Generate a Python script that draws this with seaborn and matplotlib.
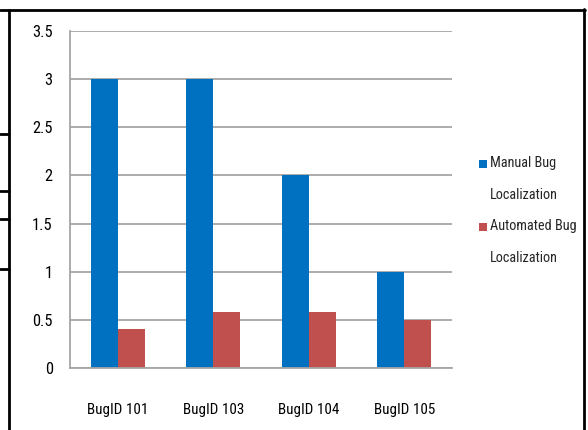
import matplotlib
matplotlib.use("Agg")
import matplotlib.pyplot as plt
from matplotlib import font_manager as fm
from matplotlib.lines import Line2D
from matplotlib.patches import Rectangle
import seaborn as sns
import pandas as pd

categories = ["BugID 101", "BugID 103", "BugID 104", "BugID 105"]
manual = [3, 3, 2, 1]
automated = [0.4, 0.58, 0.58, 0.5]
series_names = ["Manual Bug\nLocalization", "Automated Bug\nLocalization"]
colors = ["#0070C0", "#C0504D"]
y_ticks = [0, 0.5, 1, 1.5, 2, 2.5, 3, 3.5]
y_labels = ["0", "0.5", "1", "1.5", "2", "2.5", "3", "3.5"]

sns.set_style("white")

# pick a narrow font if one is installed
fam, stretch = "DejaVu Sans", "normal"
entries = fm.fontManager.ttflist
names = {f.name for f in entries}
for cand in ["Liberation Sans Narrow", "Arial Narrow", "Roboto Condensed",
             "Open Sans Condensed", "Noto Sans Condensed"]:
    if cand in names:
        fam = cand
        break
else:
    cond = [f for f in entries if str(f.stretch) in ("condensed", "semi-condensed", "extra-condensed")
            and f.style == "normal" and f.weight in (400, "normal", "regular")]
    if cond:
        fam, stretch = cond[0].name, cond[0].stretch
plt.rcParams["font.family"] = [fam, "DejaVu Sans"]
plt.rcParams["font.stretch"] = stretch

W, H = 588, 430
fig = plt.figure(figsize=(W / 100, H / 100), dpi=100)

def fx(x):
    return x / W

def fy(y):
    return 1 - y / H

renderer = fig.canvas.get_renderer()

def fit_size(text, target_px, base):
    t = fig.text(0, 0, text, fontsize=base)
    w = t.get_window_extent(renderer).width
    t.remove()
    return min(base * 1.25, base * target_px / w)

xsize = fit_size("BugID 101", 61, 11)
ysize = xsize * 1.08
lsize = fit_size("Manual Bug", 66, 11)

ax = fig.add_axes([fx(70), fy(368), fx(452) - fx(70), fy(31) - fy(368)])

df = pd.DataFrame({
    "cat": categories * 2,
    "val": manual + automated,
    "series": [series_names[0]] * len(categories) + [series_names[1]] * len(categories),
})

sns.barplot(data=df, x="cat", y="val", hue="series", order=categories,
            hue_order=series_names, palette=colors, width=0.565,
            saturation=1, legend=False, ax=ax, edgecolor="none", linewidth=0)

grey = "#a6a6a6"
ax.set_xlim(-0.5, len(categories) - 0.5)
ax.set_ylim(0, 3.5)
ax.set_yticks(y_ticks)
ax.set_yticklabels(y_labels)
ax.yaxis.grid(True, color=grey, linewidth=1.3)
ax.set_axisbelow(True)
ax.set_xlabel("")
ax.set_ylabel("")

ax.set_xticks([i - 0.5 for i in range(len(categories) + 1)])
ax.set_xticklabels([])
ax.set_xticks(list(range(len(categories))), minor=True)
ax.set_xticklabels(categories, minor=True)
ax.tick_params(axis="x", which="major", length=6.5, width=1.1, color=grey, direction="out")
ax.tick_params(axis="x", which="minor", length=0, pad=25, labelsize=xsize, colors="black")
ax.tick_params(axis="y", length=4.5, width=1.1, color=grey, direction="out",
               pad=8, labelsize=ysize, labelcolor="black")

for s in ["top", "right"]:
    ax.spines[s].set_visible(False)
for s in ["left", "bottom"]:
    ax.spines[s].set_color(grey)
    ax.spines[s].set_linewidth(1.3)

# legend
leg_y = [164, 227]
for i, name in enumerate(series_names):
    y = leg_y[i]
    fig.patches.append(Rectangle((fx(479), fy(y + 4)), fx(8), fy(y - 4) - fy(y + 4),
                                 transform=fig.transFigure, facecolor=colors[i],
                                 edgecolor="none"))
    fig.text(fx(490), fy(y - 8), name, ha="left", va="top", fontsize=lsize,
             linespacing=2.65, transform=fig.transFigure)

# outer frame / table lines
lw = 2.0
fig.add_artist(Line2D([fx(0), fx(585)], [fy(10), fy(10)], color="black", lw=lw,
                      transform=fig.transFigure))
fig.add_artist(Line2D([fx(9), fx(9)], [fy(10), fy(431)], color="black", lw=lw,
                      transform=fig.transFigure))
fig.add_artist(Line2D([fx(584), fx(584)], [fy(9), fy(431)], color="black", lw=lw,
                      transform=fig.transFigure))
for y in [134, 191, 219, 269]:
    fig.add_artist(Line2D([fx(0), fx(9)], [fy(y), fy(y)], color="black", lw=lw,
                          transform=fig.transFigure))

fig.savefig("out.png", dpi=100)
